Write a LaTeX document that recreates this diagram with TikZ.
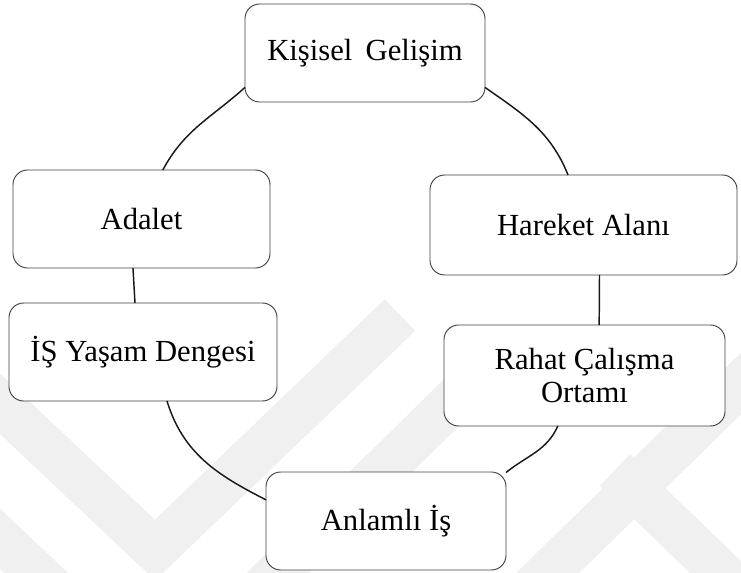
\documentclass[tikz,border=0pt]{standalone}
\usepackage{fontspec}
\setmainfont{Liberation Serif}
\begin{document}
\begin{tikzpicture}[x=0.75pt,y=-0.75pt,
  box/.style={draw=black!75,line width=0.7pt,rounded corners=11pt,fill=white,
    inner sep=0pt,outer sep=0pt,align=center,
    font=\fontsize{23}{25}\selectfont},
  link/.style={draw=black!90,line width=1.1pt},
  wm/.style={draw=black!6,line width=33pt,line join=miter,line cap=butt}]
\useasboundingbox (0,0) rectangle (741,573);
% faint background watermark
\begin{scope}
\clip (0,0) rectangle (741,573);
\draw[wm] (-20,385) -- (155,550) -- (400,315);
\draw[wm] (-20,520) -- (70,605);
\draw[wm] (240,610) -- (490,365);
\draw[wm] (510,610) -- (770,355);
\draw[wm] (615,470) -- (760,610);
\end{scope}
% boxes
\node[box,minimum width=180pt,minimum height=73.5pt] (k) at (365,53) {Kişisel\hspace{0.18em} Gelişim};
\node[box,minimum width=192.75pt,minimum height=73.5pt] (a) at (141.5,219) {Adalet};
\node[box,minimum width=201pt,minimum height=73.5pt] (i) at (143,352) {İŞ Yaşam Dengesi};
\node[box,minimum width=230.25pt,minimum height=75pt] (h) at (583.5,225) {Hareket Alanı};
\node[box,minimum width=210.75pt,minimum height=75.75pt] (r) at (584.5,375.5) {Rahat Çalışma\\Ortamı};
\node[box,minimum width=180pt,minimum height=73.5pt] (an) at (386,521) {Anlamlı İş};
% connectors
\draw[link] (k.196) to[out=222,in=62] ([xshift=16pt]a.north);
\draw[link] ([xshift=-6.4pt]a.south) -- ([xshift=-6pt]i.north);
\draw[link] ([xshift=18pt]i.south) to[out=287,in=153] (an.170);
\draw[link] (an.22) to[out=39,in=246] ([xshift=-20pt]r.south);
\draw[link] ([xshift=11pt]r.north) -- ([xshift=12pt]h.south);
\draw[link] ([xshift=-11.6pt]h.north) to[out=112,in=325] (k.344);
\end{tikzpicture}
\end{document}
